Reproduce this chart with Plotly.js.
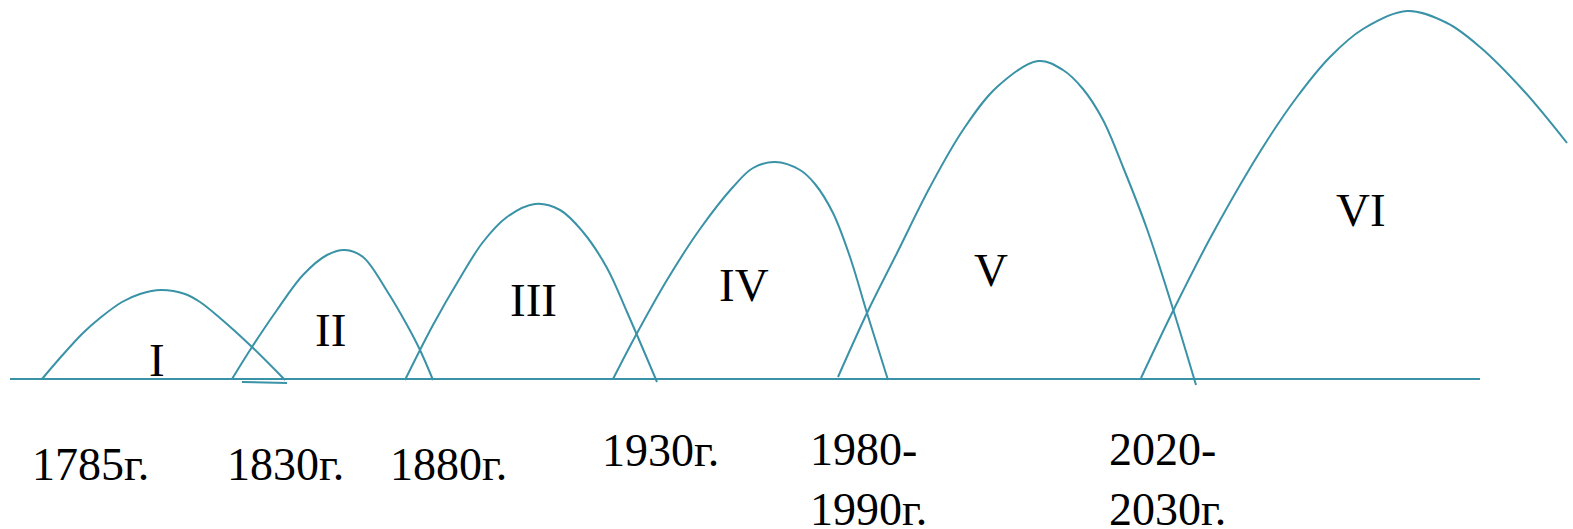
<!DOCTYPE html>
<html>
<head>
<meta charset="utf-8">
<script src="https://cdn.plot.ly/plotly-3.0.1.min.js"></script>
<style>
html,body{margin:0;padding:0;background:#fff;}
#chart{width:1573px;height:529px;}
</style>
</head>
<body>
<div id="chart"></div>
<script>
// Wave names (Roman numerals)
const waveNames = ["I", "II", "III", "IV", "V", "VI"];

// Each wave's outline: horizontal positions and heights above the base line
const waveX = [
  [42, 60, 83, 100, 122, 140, 161, 185, 200, 220, 252, 285],
  [232, 252, 277, 303, 327, 345, 363, 387, 407, 420, 433],
  [405, 433, 460, 483, 507, 535, 560, 583, 607, 627, 657],
  [613, 636, 667, 700, 733, 753, 775, 800, 815, 833, 850, 867, 888],
  [838, 867, 897, 930, 963, 997, 1038, 1063, 1083, 1103, 1123, 1147, 1173, 1196],
  [1141, 1173, 1213, 1263, 1297, 1330, 1363, 1407, 1447, 1480, 1523, 1567]
];
const waveH = [
  [0, 21, 46, 61, 77, 85, 89, 85, 77, 61, 32, -1],
  [0, 32, 69, 104, 124, 129, 122, 88, 54, 29, -1],
  [-1, 54, 101, 137, 162, 175, 169, 147, 111, 67, -3],
  [0, 44, 99, 150, 192, 211, 217, 209, 195, 166, 122, 66, -1],
  [2, 66, 126, 192, 249, 292, 318, 309, 290, 259, 212, 150, 70, -6],
  [1, 68, 146, 232, 282, 322, 350, 368, 356, 332, 289, 236]
];

// Roman numeral label positions
const labelX = [157, 330, 533, 744, 991, 1361];
const labelH = [19, 49, 79, 94, 109, 169];

// Year labels under the axis
const yearText = ["1785г.", "1830г.", "1880г.", "1930г.", "1980-<br>1990г.", "2020-<br>2030г."];
const yearX = [90, 285, 448, 660, 808, 1107];
const yearH = [-85, -85, -85, -71, -100, -100];
const yearAnchor = ["center", "center", "center", "center", "left", "left"];

// Base line and a small stray stroke
const baseX = [10, 1480];
const baseH = [0, 0];
const strokeX = [242, 287];
const strokeH = [-3, -4];

const lineColor = "#3a92a7";
const serif = "Liberation Serif";

const traces = [];
traces.push({x: baseX, y: baseH, mode: "lines", line: {color: lineColor, width: 2}, hoverinfo: "skip"});
traces.push({x: strokeX, y: strokeH, mode: "lines", line: {color: lineColor, width: 2}, hoverinfo: "skip"});
for (let i = 0; i < waveX.length; i++) {
  traces.push({
    x: waveX[i], y: waveH[i], mode: "lines", name: waveNames[i],
    line: {color: lineColor, width: 2, shape: "spline", smoothing: 1},
    hoverinfo: "skip"
  });
}

const annotations = [];
for (let i = 0; i < waveNames.length; i++) {
  annotations.push({
    x: labelX[i], y: labelH[i], xref: "x", yref: "y", text: waveNames[i],
    showarrow: false, xanchor: "center", yanchor: "middle",
    font: {family: serif, size: 47, color: "#000"}
  });
}
for (let i = 0; i < yearText.length; i++) {
  annotations.push({
    x: yearX[i], y: yearH[i], xref: "x", yref: "y", text: yearText[i],
    showarrow: false, xanchor: yearAnchor[i], yanchor: "middle", align: "left",
    font: {family: serif, size: 46, color: "#000"}
  });
}

const layout = {
  width: 1573, height: 529,
  margin: {l: 0, r: 0, t: 0, b: 0, pad: 0},
  paper_bgcolor: "#fff", plot_bgcolor: "#fff",
  showlegend: false,
  xaxis: {range: [0, 1573], visible: false, fixedrange: true},
  yaxis: {range: [-150, 379], visible: false, fixedrange: true},
  annotations: annotations
};

Plotly.newPlot("chart", traces, layout, {displayModeBar: false, staticPlot: true});
</script>
</body>
</html>
